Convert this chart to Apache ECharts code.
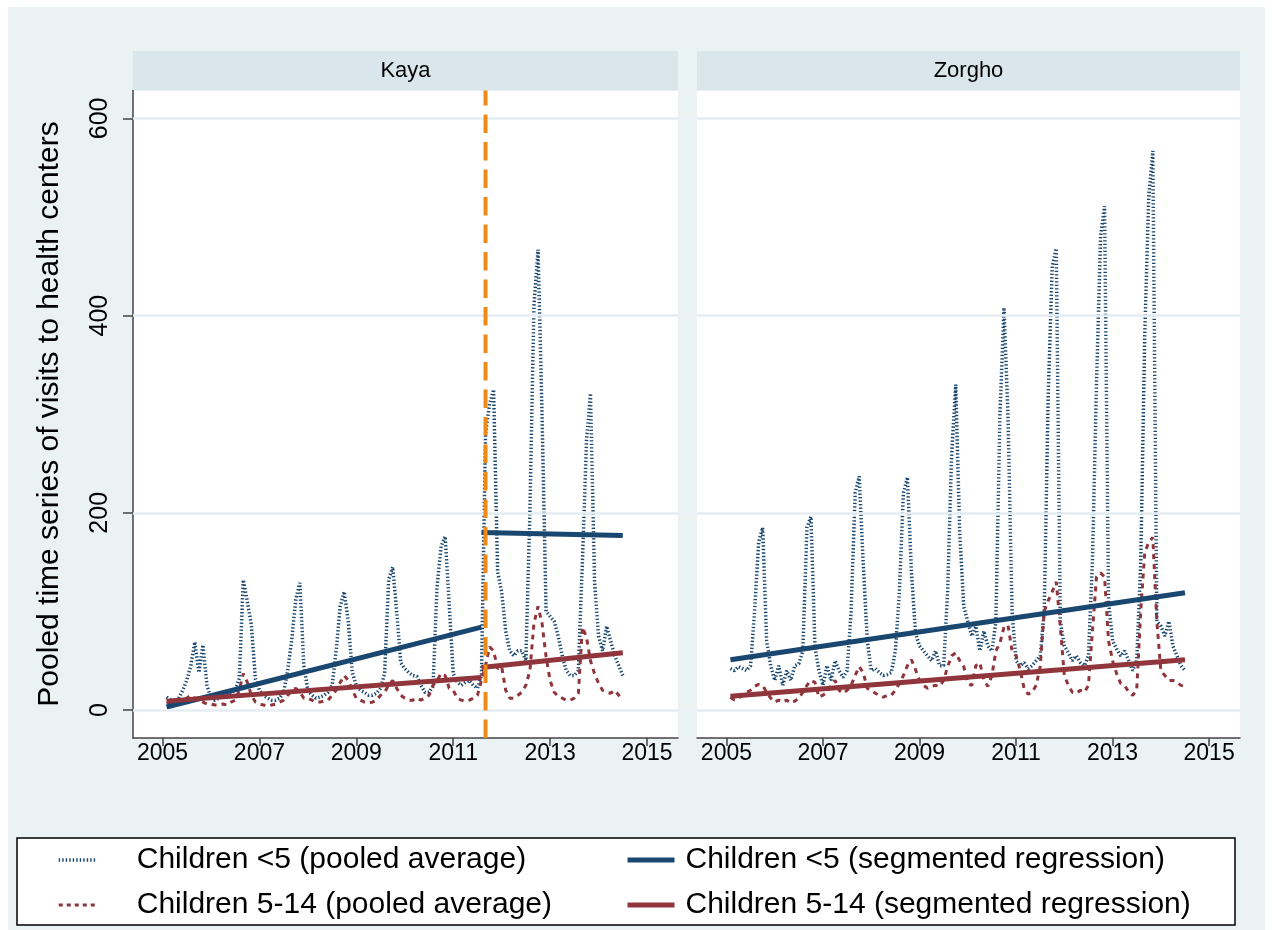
<!DOCTYPE html>
<html>
<head>
<meta charset="utf-8">
<title>Kaya / Zorgho</title>
<script src="https://cdn.jsdelivr.net/npm/echarts@6/dist/echarts.min.js"></script>
<style>
  html, body { margin: 0; padding: 0; background: #fff; }
  #chart { width: 1272px; height: 930px; }
</style>
</head>
<body>
<div id="chart"></div>
<script>
// monthly series, Feb 2005 .. Jul 2014 (114 months)
var firstYear = 2005, firstMonth = 2;

var kayaUnder5 = [
    13, 10, 9, 12, 20, 30, 45, 69, 38, 66, 25,          // 2005
    12, 10, 12, 14, 15, 18, 20, 32, 132, 110, 86, 32,   // 2006
    20, 15, 12, 10, 10, 12, 18, 40, 71, 112, 129, 45,   // 2007
    20, 15, 12, 13, 15, 18, 25, 60, 105, 120, 90, 38,   // 2008
    25, 20, 18, 15, 15, 17, 22, 37, 132, 145, 100, 48,  // 2009
    42, 38, 35, 34, 25, 18, 18, 24, 125, 166, 176, 108, // 2010
    37, 28, 25, 28, 30, 25, 22, 35, 280, 310, 325, 140, // 2011
    120, 80, 60, 55, 60, 60, 50, 200, 410, 467, 300, 100, // 2012
    95, 90, 75, 55, 40, 35, 35, 40, 150, 272, 321, 130, // 2013
    75, 60, 85, 70, 55, 45, 35                          // 2014
];
var kaya5to14 = [
    8, 7, 6, 8, 10, 12, 15, 12, 10, 8, 6,
    6, 5, 5, 6, 5, 8, 10, 20, 37, 28, 15, 8,
    6, 5, 4, 5, 6, 8, 10, 15, 20, 22, 18, 12,
    12, 10, 8, 8, 9, 10, 15, 20, 28, 35, 30, 20,
    12, 10, 8, 7, 8, 10, 15, 18, 25, 30, 22, 15,
    12, 10, 10, 12, 10, 12, 15, 25, 30, 37, 35, 22,
    20, 12, 10, 9, 10, 12, 15, 30, 45, 64, 60, 42,
    44, 20, 12, 12, 15, 18, 25, 40, 88, 105, 88, 54,
    30, 18, 14, 12, 10, 10, 12, 17, 84, 74, 50, 37,
    27, 20, 18, 17, 20, 15, 10
];
var zorghoUnder5 = [
    42, 40, 44, 42, 40, 45, 100, 170, 185, 70, 45,
    30, 45, 25, 40, 30, 45, 47, 60, 185, 196, 64, 40,
    25, 45, 30, 50, 40, 33, 40, 100, 220, 237, 150, 71,
    40, 42, 38, 35, 36, 38, 60, 120, 220, 236, 140, 78,
    65, 60, 55, 50, 60, 45, 45, 120, 260, 330, 180, 105,
    90, 75, 85, 60, 80, 65, 60, 90, 300, 408, 300, 100,
    50, 45, 48, 42, 45, 50, 55, 100, 320, 450, 468, 90,
    65, 58, 50, 55, 48, 45, 55, 150, 330, 480, 511, 110,
    70, 62, 55, 60, 50, 40, 50, 150, 380, 520, 567, 90,
    85, 75, 90, 65, 55, 45, 40
];
var zorgho5to14 = [
    13, 10, 12, 15, 18, 20, 24, 26, 25, 18, 12,
    8, 10, 8, 10, 7, 9, 12, 18, 25, 30, 28, 13,
    15, 18, 25, 30, 20, 17, 20, 25, 35, 44, 38, 22,
    20, 17, 15, 13, 15, 15, 20, 27, 35, 45, 51, 41,
    30, 25, 22, 24, 25, 24, 30, 44, 55, 58, 50, 44,
    27, 25, 45, 48, 30, 24, 35, 60, 68, 84, 86, 60,
    55, 41, 22, 16, 18, 25, 44, 100, 111, 120, 130, 85,
    35, 25, 18, 17, 20, 18, 25, 80, 135, 139, 135, 70,
    50, 37, 27, 25, 18, 15, 20, 100, 160, 170, 175, 90,
    40, 35, 30, 30, 28, 25, 24
];

// segmented regression end points [year, value]
var kayaUnder5FitPre = [[2005.083, 3], [2011.583, 84]];
var kayaUnder5FitPost = [[2011.583, 180], [2014.5, 177]];
var kaya5to14FitPre = [[2005.083, 9], [2011.583, 33]];
var kaya5to14FitPost = [[2011.583, 43], [2014.5, 58]];
var zorghoUnder5Fit = [[2005.083, 51], [2014.5, 119]];
var zorgho5to14Fit = [[2005.083, 14], [2014.5, 51]];

var interventionDate = 2011.667;
var yearTicks = [2005, 2007, 2009, 2011, 2013, 2015];
var valueTicks = [0, 200, 400, 600];
var panelNames = ['Kaya', 'Zorgho'];
var xRange = [2004.39, 2015.64];
var yRange = [-28.4, 628.3];

var NAME_U5 = 'Children <5 (pooled average)';
var NAME_514 = 'Children 5-14 (pooled average)';
var NAME_U5_FIT = 'Children <5 (segmented regression)';
var NAME_514_FIT = 'Children 5-14 (segmented regression)';

var BLUE = '#1a476f', RED = '#90353b', ORANGE = '#ef8a17';
var FONT = 'Liberation Sans, Arial, sans-serif';

function toPoints(values) {
    var pts = [];
    for (var i = 0; i < values.length; i++) {
        pts.push([firstYear + (firstMonth - 1 + i) / 12, values[i]]);
    }
    return pts;
}

function lineSeries(name, data, idx, style, z) {
    return {
        type: 'line', name: name, data: data,
        xAxisIndex: idx, yAxisIndex: idx,
        symbol: 'none', silent: true, z: z || 2,
        color: style.color,
        itemStyle: {color: style.color},
        emphasis: {disabled: true},
        lineStyle: style
    };
}

function gridLines(idx) {
    var d = [];
    for (var i = 0; i < valueTicks.length; i++) d.push({yAxis: valueTicks[i]});
    return {
        type: 'line', data: [], xAxisIndex: idx, yAxisIndex: idx, z: 1, silent: true,
        markLine: {
            symbol: 'none', silent: true, animation: false, label: {show: false},
            lineStyle: {color: '#e4edf1', width: 2.5, type: 'solid'},
            emphasis: {disabled: true},
            data: d
        }
    };
}

var dotted = {color: BLUE, width: 3.5, type: [1.4, 2.1]};
var dashed = {color: RED, width: 3, type: [5, 5]};
var solidBlue = {color: BLUE, width: 5, type: 'solid'};
var solidRed = {color: RED, width: 5, type: 'solid'};

var xAxes = [], yAxes = [];
for (var p = 0; p < 2; p++) {
    xAxes.push({
        type: 'value', gridIndex: p, min: xRange[0], max: xRange[1],
        axisLine: {show: true, onZero: false, lineStyle: {color: '#444', width: 1.5}},
        axisTick: {show: true, length: 8, customValues: yearTicks, lineStyle: {color: '#444', width: 1.5}},
        axisLabel: {
            customValues: yearTicks, fontSize: 23, color: '#000', fontFamily: FONT, margin: 4,
            formatter: function (v) { return String(v); }
        },
        splitLine: {show: false}
    });
    yAxes.push({
        type: 'value', gridIndex: p, min: yRange[0], max: yRange[1],
        axisLine: {show: p === 0, lineStyle: {color: '#444', width: 1.5}},
        axisTick: {show: p === 0, length: 10, customValues: valueTicks, lineStyle: {color: '#444', width: 1.5}},
        axisLabel: {
            show: p === 0, customValues: valueTicks, rotate: 90, fontSize: 25, color: '#000', fontFamily: FONT, margin: 20,
            formatter: function (v) { return String(v); }
        },
        splitLine: {show: false}
    });
}

var series = [
    gridLines(0),
    gridLines(1),
    lineSeries(NAME_U5, toPoints(kayaUnder5), 0, dotted),
    lineSeries(NAME_514, toPoints(kaya5to14), 0, dashed),
    lineSeries(NAME_U5_FIT, kayaUnder5FitPre, 0, solidBlue, 3),
    lineSeries(NAME_U5_FIT, kayaUnder5FitPost, 0, solidBlue, 3),
    lineSeries(NAME_514_FIT, kaya5to14FitPre, 0, solidRed, 3),
    lineSeries(NAME_514_FIT, kaya5to14FitPost, 0, solidRed, 3),
    // intervention date, drawn bottom to top
    lineSeries('intervention', [[interventionDate, yRange[0]], [interventionDate, yRange[1]]], 0,
        {color: ORANGE, width: 4, type: [18.5, 9]}, 5),
    lineSeries(NAME_U5, toPoints(zorghoUnder5), 1, dotted),
    lineSeries(NAME_514, toPoints(zorgho5to14), 1, dashed),
    lineSeries(NAME_U5_FIT, zorghoUnder5Fit, 1, solidBlue, 3),
    lineSeries(NAME_514_FIT, zorgho5to14Fit, 1, solidRed, 3)
];

var legendText = {fontSize: 30, color: '#000', fontFamily: FONT};

var chart = echarts.init(document.getElementById('chart'));
var option = {
    animation: false,
    backgroundColor: '#fff',
    textStyle: {fontFamily: FONT},
    grid: [
        {left: 133, top: 90.5, width: 545, height: 647.5, show: true, backgroundColor: '#fff', borderWidth: 0},
        {left: 697, top: 90.5, width: 543, height: 647.5, show: true, backgroundColor: '#fff', borderWidth: 0}
    ],
    xAxis: xAxes,
    yAxis: yAxes,
    legend: [
        {
            data: [
                {name: NAME_U5, lineStyle: {width: 3.5, type: [1.4, 2.1], color: BLUE}},
                {name: NAME_514, lineStyle: {width: 3, type: [4, 4], color: RED}}
            ],
            orient: 'vertical', left: 57, top: 845, padding: 0,
            itemWidth: 38, itemHeight: 20, itemGap: 15, selectedMode: false,
            itemStyle: {opacity: 0},
            textStyle: Object.assign({padding: [0, 0, 0, 35]}, legendText)
        },
        {
            data: [
                {name: NAME_U5_FIT, lineStyle: {width: 5, type: 'solid', color: BLUE}},
                {name: NAME_514_FIT, lineStyle: {width: 5, type: 'solid', color: RED}}
            ],
            orient: 'vertical', left: 625, top: 845, padding: 0,
            itemWidth: 47, itemHeight: 20, itemGap: 15, selectedMode: false,
            itemStyle: {opacity: 0},
            textStyle: Object.assign({padding: [0, 0, 0, 6]}, legendText)
        }
    ],
    graphic: [
        {type: 'rect', z: -10, silent: true, shape: {x: 8, y: 7, width: 1257, height: 923}, style: {fill: '#eaf2f3'}},
        {type: 'rect', silent: true, shape: {x: 133, y: 51, width: 545, height: 39.5}, style: {fill: '#d9e6eb'}},
        {type: 'rect', silent: true, shape: {x: 697, y: 51, width: 543, height: 39.5}, style: {fill: '#d9e6eb'}},
        {type: 'text', silent: true, x: 405.5, y: 71,
            style: {text: panelNames[0], font: '22px ' + FONT, fill: '#000', align: 'center', verticalAlign: 'middle', textAlign: 'center', textVerticalAlign: 'middle'}},
        {type: 'text', silent: true, x: 968.5, y: 71,
            style: {text: panelNames[1], font: '22px ' + FONT, fill: '#000', align: 'center', verticalAlign: 'middle', textAlign: 'center', textVerticalAlign: 'middle'}},
        {type: 'text', silent: true, x: 50, y: 414, rotation: Math.PI / 2,
            style: {text: 'Pooled time series of visits to health centers', font: '30px ' + FONT, fill: '#000', align: 'center', verticalAlign: 'middle', textAlign: 'center', textVerticalAlign: 'middle'}},
        {type: 'rect', silent: true, z: 1, shape: {x: 17, y: 838, width: 1218, height: 87}, style: {fill: '#fff', stroke: '#000', lineWidth: 1.5}}
    ],
    series: series
};
chart.setOption(option);
</script>
</body>
</html>
